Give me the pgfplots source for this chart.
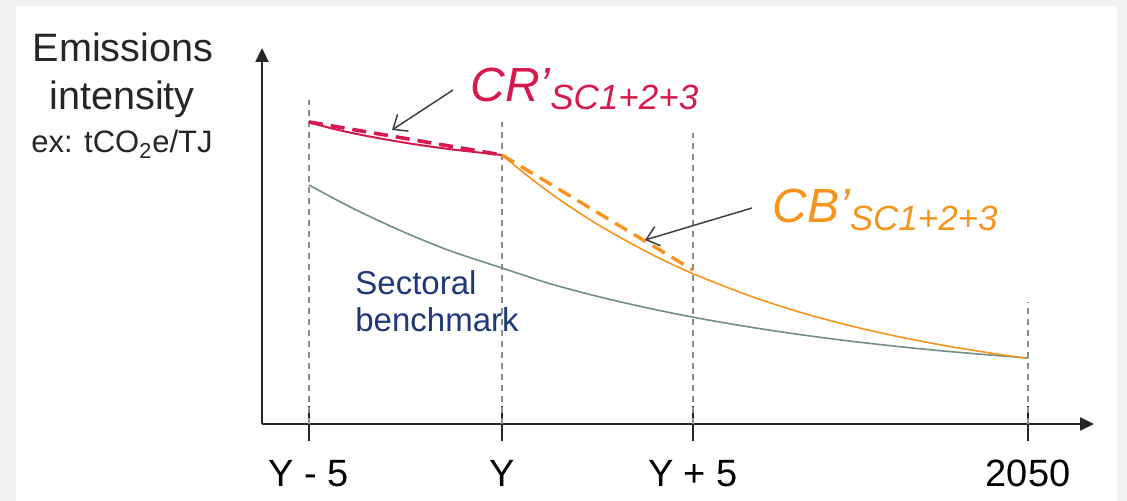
\documentclass[border=0pt]{standalone}
\usepackage{pgfplots}
\pgfplotsset{compat=1.18}
\usetikzlibrary{arrows.meta}
\usepackage{fontspec}
\setmainfont{Liberation Sans}
\definecolor{bggrey}{HTML}{F2F2F2}
\definecolor{crim}{HTML}{D6184C}
\definecolor{orng}{HTML}{F7941D}
\definecolor{bench}{HTML}{6F8F88}
\definecolor{navy}{HTML}{1F3878}
\definecolor{axgrey}{HTML}{262626}
\definecolor{vgrey}{HTML}{8C8C8C}
\definecolor{argrey}{HTML}{404040}
\begin{document}
\begin{tikzpicture}
\fill[bggrey] (-131pt,-38.5pt) rectangle (432.5pt,212pt);
\fill[white] (-123pt,-38.5pt) rectangle (427.5pt,209pt);
\begin{axis}[
  at={(0pt,0pt)}, anchor=south west,
  scale only axis, width=416pt, height=188pt,
  xmin=262, xmax=1094, ymin=0, ymax=376,
  axis lines=left,
  axis line style={-{Triangle[length=7pt,width=6.5pt]}, line width=1.1pt, color=axgrey},
  xtick={309,502,693,1028},
  xticklabels={Y - 5, Y, Y + 5, 2050},
  ytick=\empty,
  xtick align=center,
  major tick length=17.5pt,
  every tick/.style={color=axgrey, line width=0.6pt},
  xticklabel style={font=\fontsize{19}{19}\selectfont, anchor=base, yshift=-22.75pt},
  clip=false,
  no markers,
]
% vertical guide lines
\addplot[vgrey, line width=0.6pt, dash pattern=on 3pt off 2.5pt] coordinates {(309,0) (309,324)};
\addplot[vgrey, line width=0.6pt, dash pattern=on 3pt off 2.5pt] coordinates {(502,0) (502,302)};
\addplot[vgrey, line width=0.6pt, dash pattern=on 3pt off 2.5pt] coordinates {(693,0) (693,291)};
\addplot[vgrey, line width=0.6pt, dash pattern=on 3pt off 2.5pt] coordinates {(1028,0) (1028,122)};
% sectoral benchmark
\addplot[bench, line width=0.8pt, smooth] coordinates {
 (309,239) (350,217.1) (400,193.6) (450,173.2) (503,155.7) (550,140.3) (600,127)
 (650,115.5) (700,105.5) (750,96.9) (800,89.4) (850,82.9) (900,77.3) (950,72.4)
 (1000,68.2) (1028,66)};
% CR solid
\addplot[crim, line width=1pt, smooth] coordinates {
 (309,301.5) (340,293.6) (370,287.4) (400,282.1) (430,277.5) (460,273.6) (502,269)};
% CR dashed
\addplot[crim, line width=1.8pt, dash pattern=on 7pt off 4pt] coordinates {(309,302) (502,269)};
% CB solid
\addplot[orng, line width=0.8pt, smooth] coordinates {
 (502,269) (530,246.2) (560,224.1) (600,198.1) (650,170.5) (693,150.3) (750,128)
 (800,111.8) (850,98.3) (900,87) (950,77.5) (1000,69.5) (1025,66)};
% CB dashed
\addplot[orng, line width=1.7pt, dash pattern=on 7pt off 4pt] coordinates {(502,269) (693,154)};
% annotation arrows
\draw[argrey, line width=0.75pt, -{Straight Barb[length=6pt,width=10pt]}] (453,334) -- (392,294);
\draw[argrey, line width=0.75pt, -{Straight Barb[length=6pt,width=10pt]}] (752,216) -- (645,184);
% labels
\node[anchor=base west, text=crim, inner sep=0pt, font=\fontsize{24}{24}\selectfont\itshape]
  at (470,322) {CR’\raisebox{-4pt}{\fontsize{17.5}{17.5}\selectfont SC1+2+3}};
\node[anchor=base west, text=orng, inner sep=0pt, font=\fontsize{24}{24}\selectfont\itshape]
  at (772,201) {CB’\raisebox{-4pt}{\fontsize{17.5}{17.5}\selectfont SC1+2+3}};
\node[anchor=base west, text=navy, inner sep=0pt, font=\fontsize{16.5}{16.5}\selectfont]
  at (355,129) {Sectoral};
\node[anchor=base west, text=navy, inner sep=0pt, font=\fontsize{16.5}{16.5}\selectfont]
  at (355,92) {benchmark};
\node[anchor=base, text=axgrey, inner sep=0pt, font=\fontsize{19.8}{19.8}\selectfont]
  at (123,362) {Emissions};
\node[anchor=base, text=axgrey, inner sep=0pt, font=\fontsize{19.8}{19.8}\selectfont]
  at (122,314) {intensity};
\node[anchor=base, text=axgrey, inner sep=0pt, font=\fontsize{15.5}{15.5}\selectfont]
  at (122,271) {ex: tCO\textsubscript{2}e/TJ};
\end{axis}
\pgfresetboundingbox
\useasboundingbox (-131pt,-38.5pt) rectangle (432.5pt,212pt);
\end{tikzpicture}
\end{document}
